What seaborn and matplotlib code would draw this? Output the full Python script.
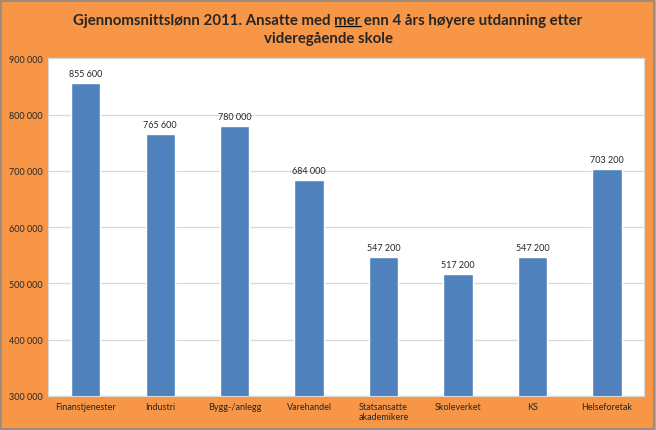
import numpy as np
import pandas as pd
import matplotlib
matplotlib.use('Agg')
import matplotlib.pyplot as plt
import seaborn as sns
from matplotlib.patches import Rectangle
from matplotlib.lines import Line2D
from matplotlib.ticker import FuncFormatter

# Data
categories = ['Finanstjenester', 'Industri', 'Bygg-/anlegg', 'Varehandel',
              'Statsansatte\nakademikere', 'Skoleverket', 'KS', 'Helseforetak']
salaries = [855600, 765600, 780000, 684000, 547200, 517200, 547200, 703200]
y_ticks = [300000, 400000, 500000, 600000, 700000, 800000, 900000]

df = pd.DataFrame({'sektor': categories, 'lonn': salaries})

sns.set_style('white')
plt.rcParams['font.family'] = ['Lato', 'DejaVu Sans']

orange = '#F79646'
fig = plt.figure(figsize=(6.56, 4.31), dpi=100, facecolor=orange)
ax = fig.add_axes([0.0736, 0.079, 0.9085, 0.7835])

sns.barplot(data=df, x='sektor', y='lonn', color='#4F81BD', width=0.39,
            saturation=1, ax=ax)

def fmt(v):
    return f'{int(v):,}'.replace(',', ' ')

ax.set_ylim(300000, 900000)
ax.set_yticks(y_ticks)
ax.yaxis.set_major_formatter(FuncFormatter(lambda v, p: fmt(v)))
ax.grid(axis='y', color='#D9D9D9', linewidth=0.9)
ax.set_axisbelow(True)
ax.set_xlabel('')
ax.set_ylabel('')
ax.tick_params(axis='both', length=0, labelsize=6.5, pad=4)
for s in ax.spines.values():
    s.set_color('#D9D9D9')
    s.set_linewidth(0.8)

for p, v in zip(ax.patches, salaries):
    ax.annotate(fmt(v), (p.get_x() + p.get_width() / 2, v),
                xytext=(0, 3.5), textcoords='offset points',
                ha='center', va='bottom', fontsize=6.5)

# title, with "mer" underlined
line1_a = 'Gjennomsnittslønn 2011. Ansatte med '
line1_b = 'mer'
line1_c = ' enn 4 års høyere utdanning etter'
tkw = dict(fontsize=10.8, fontweight='bold')
t1 = fig.text(0.5, 0.9427, line1_a + line1_b + line1_c, ha='center', va='baseline', **tkw)
fig.text(0.5, 0.8995, 'videregående skole', ha='center', va='baseline', **tkw)

r = fig.canvas.get_renderer()
bb = t1.get_window_extent(r)
tmp = fig.text(0, 0, line1_a, **tkw)
wa = tmp.get_window_extent(r).width
tmp.set_text(line1_a + line1_b)
wab = tmp.get_window_extent(r).width
tmp.remove()
W, H = fig.bbox.width, fig.bbox.height
uy = 0.9427 - 2.0 / H
fig.lines.append(Line2D([(bb.x0 + wa) / W, (bb.x0 + wab) / W], [uy, uy],
                        transform=fig.transFigure, color='black', linewidth=0.9))

fig.patches.append(Rectangle((0.002, 0.003), 0.995, 0.993, transform=fig.transFigure,
                             fill=False, edgecolor='#8C8C8C', linewidth=1.2))

fig.savefig('out.png', dpi=100, facecolor=orange)
